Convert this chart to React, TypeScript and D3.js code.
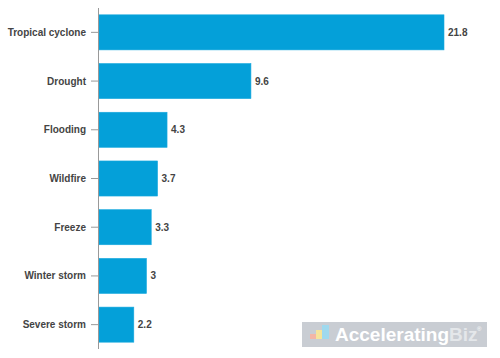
import React from "react";
import * as d3 from "d3";

const categories = ["Tropical cyclone", "Drought", "Flooding", "Wildfire", "Freeze", "Winter storm", "Severe storm"];
const values = [21.8, 9.6, 4.3, 3.7, 3.3, 3, 2.2];
const valueLabels = ["21.8", "9.6", "4.3", "3.7", "3.3", "3", "2.2"];

const width = 500;
const height = 358;
const margin = { top: 8, right: 56, bottom: 9, left: 99 };

export default function App() {
  const y = d3.scaleBand()
    .domain(categories)
    .range([margin.top, height - margin.bottom])
    .paddingInner(0.28)
    .paddingOuter(0.14);

  const x = d3.scaleLinear()
    .domain([0, 21.8])
    .range([margin.left, width - margin.right]);

  const font = "'Helvetica Neue', Arial, 'Liberation Sans', sans-serif";

  return (
    <svg width={width} height={height}
      style={{ position: "absolute", left: 0, top: 0, background: "#fff" }}>
      {categories.map((c, i) => {
        const cy = (y(c) ?? 0) + y.bandwidth() / 2;
        return (
          <g key={c}>
            <rect x={x(0)} y={y(c)} width={x(values[i]) - x(0)} height={y.bandwidth()}
              fill="#04a0d9" stroke="#1aa9de" strokeWidth={0.6} />
            <text x={x(values[i]) + 4} y={cy} dy="0.35em"
              fontFamily={font} fontSize={10} fontWeight="bold" fill="#444">
              {valueLabels[i]}
            </text>
            <line x1={margin.left - 8} x2={margin.left - 1} y1={cy} y2={cy} stroke="#999" />
            <text x={margin.left - 13} y={cy} dy="0.35em"
              textAnchor="end" fontFamily={font} fontSize={10} fontWeight="bold" fill="#444">
              {c}
            </text>
          </g>
        );
      })}
      <line x1={margin.left - 0.5} x2={margin.left - 0.5} y1={margin.top} y2={height - margin.bottom}
        stroke="#999" />
      <g>
        <rect x={302} y={322} width={185} height={25} fill="#c9cdd3" />
        <rect x={310} y={334} width={6} height={5} fill="#f3b6a6" />
        <rect x={316} y={330} width={6} height={9} fill="#f6e49a" />
        <rect x={322} y={325} width={7} height={14} fill="#9fd9ee" />
        <text x={335} y={341} fontFamily={font} fontSize={19} fontWeight="bold" fill="#ffffff">
          Accelerating<tspan fill="#e4e7ea">Biz</tspan>
        </text>
        <text x={477} y={331} fontFamily={font} fontSize={6} fill="#ffffff">®</text>
      </g>
    </svg>
  );
}
